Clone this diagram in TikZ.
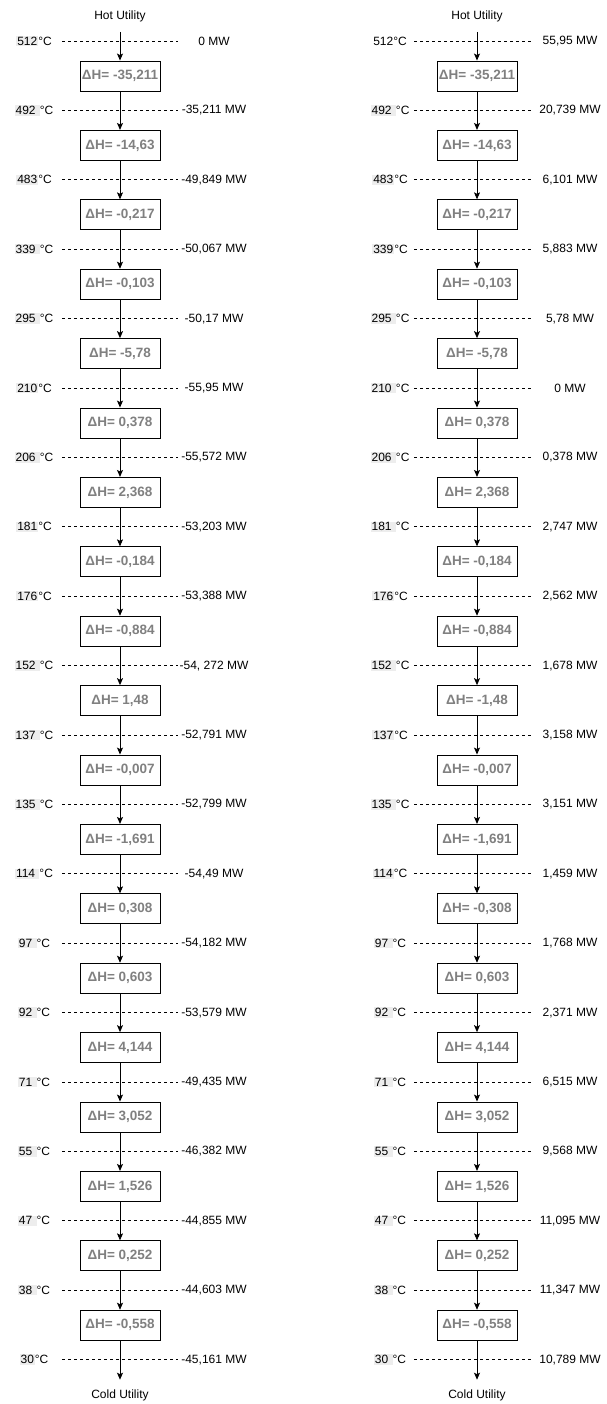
\documentclass[tikz,border=0pt]{standalone}
\usepackage{fontspec}
\setmainfont{Liberation Sans}
\usetikzlibrary{arrows.meta}
\definecolor{hlgray}{HTML}{EDEDED}
\definecolor{dhgray}{HTML}{808080}
\newcommand{\hlt}[1]{{\setlength{\fboxsep}{1pt}\colorbox{hlgray}{\vphantom{0}#1}}}
\begin{document}
\begin{tikzpicture}[x=1pt,y=-1pt,
  lbl/.style={font=\fontsize{12}{14}\selectfont, inner sep=0pt},
  dhbox/.style={draw=black, fill=white, line width=0.9pt, minimum width=80pt, minimum height=30pt, inner sep=0pt, font=\bfseries\fontsize{13.5}{16}\selectfont, text=dhgray},
  sep/.style={dash pattern=on 3pt off 3pt, line width=0.8pt},
  flow/.style={-{Stealth[length=7pt,width=6pt,inset=1.5pt]}, line width=0.9pt}]
\useasboundingbox (0,0) rectangle (607,1404);

% ---------------- left column ----------------
\foreach \t/\m [count=\i] in {
 {\hlt{512}°C}/{0 MW},
 {\hlt{492~}°C}/{-35,211  MW},
 {\hlt{483}°C}/{-49,849 MW},
 {\hlt{339~}°C}/{-50,067 MW},
 {\hlt{295~}°C}/{-50,17 MW},
 {\hlt{210}°C}/{-55,95 MW},
 {\hlt{206~}°C}/{-55,572 MW},
 {\hlt{181}°C}/{-53,203 MW},
 {\hlt{176}°C}/{-53,388 MW},
 {\hlt{152~}°C}/{-54, 272 MW},
 {\hlt{137~}°C}/{-52,791 MW},
 {\hlt{135~}°C}/{-52,799 MW},
 {\hlt{114~}°C}/{-54,49 MW},
 {\hlt{97~}°C}/{-54,182 MW},
 {\hlt{92~}°C}/{-53,579 MW},
 {\hlt{71~}°C}/{-49,435 MW},
 {\hlt{55~}°C}/{-46,382 MW},
 {\hlt{47~}°C}/{-44,855 MW},
 {\hlt{38~}°C}/{-44,603 MW},
 {\hlt{30}°C}/{-45,161 MW}} {
  \pgfmathsetmacro{\yy}{41+(\i-1)*69.4}
  \node[lbl] (tL\i) at (34,\yy) {\t};
  \coordinate (aL\i) at (62,\yy);
  \coordinate (bL\i) at (178,\yy);
  \draw[sep] (aL\i) -- (bL\i);
  \node[lbl] (mL\i) at (214,\yy) {\m};
}
\foreach \d [count=\i] in {{-35,211},{-14,63},{-0,217},{-0,103},{-5,78},{0,378},{2,368},{-0,184},{-0,884},{1,48},{-0,007},{-1,691},{0,308},{0,603},{4,144},{3,052},{1,526},{0,252},{-0,558}} {
  \pgfmathsetmacro{\yy}{76+(\i-1)*69.4}
  \node[dhbox] (hL\i) at (120,\yy) {ΔH= \d};
}
\node[lbl] (hotL) at (120,16) {Hot Utility};
\node[lbl] (coldL) at (120,1395) {Cold Utility};

% ---------------- right column ----------------
\foreach \t/\m [count=\i] in {
 {512°C}/{55,95 MW},
 {\hlt{492~}°C}/{20,739 MW},
 {\hlt{483}°C}/{6,101 MW},
 {\hlt{339}°C}/{5,883 MW},
 {\hlt{295~}°C}/{5,78 MW},
 {\hlt{210~}°C}/{0 MW},
 {\hlt{206~}°C}/{0,378 MW},
 {\hlt{181~}°C}/{2,747 MW},
 {\hlt{176}°C}/{2,562 MW},
 {\hlt{152~}°C}/{1,678 MW},
 {\hlt{137}°C}/{3,158 MW},
 {\hlt{135~}°C}/{3,151 MW},
 {\hlt{114}°C}/{1,459 MW},
 {\hlt{97~}°C}/{1,768 MW},
 {\hlt{92~}°C}/{2,371 MW},
 {\hlt{71~}°C}/{6,515 MW},
 {\hlt{55~}°C}/{9,568 MW},
 {\hlt{47~}°C}/{11,095 MW},
 {\hlt{38~}°C}/{11,347 MW},
 {\hlt{30~}°C}/{10,789 MW}} {
  \pgfmathsetmacro{\yy}{41+(\i-1)*69.4}
  \node[lbl] (tR\i) at (390,\yy) {\t};
  \coordinate (aR\i) at (414,\yy);
  \coordinate (bR\i) at (532,\yy);
  \draw[sep] (aR\i) -- (bR\i);
  \node[lbl] (mR\i) at (570,\yy) {\m};
}
\foreach \d [count=\i] in {{-35,211},{-14,63},{-0,217},{-0,103},{-5,78},{0,378},{2,368},{-0,184},{-0,884},{-1,48},{-0,007},{-1,691},{-0,308},{0,603},{4,144},{3,052},{1,526},{0,252},{-0,558}} {
  \pgfmathsetmacro{\yy}{76+(\i-1)*69.4}
  \node[dhbox] (hR\i) at (477,\yy) {ΔH= \d};
}
\node[lbl] (hotR) at (477,16) {Hot Utility};
\node[lbl] (coldR) at (477,1395) {Cold Utility};

% ---------------- flow arrows ----------------
\draw[flow] ([yshift=-10pt]hotL.south) -- (hL1.north);
\draw[flow] ([yshift=-10pt]hotR.south) -- (hR1.north);
\foreach \i [evaluate=\i as \j using {int(\i+1)}] in {1,...,18} {
  \draw[flow] (hL\i.south) -- (hL\j.north);
  \draw[flow] (hR\i.south) -- (hR\j.north);
}
\draw[flow] (hL19.south) -- ([yshift=9.5pt]coldL.north);
\draw[flow] (hR19.south) -- ([yshift=9.5pt]coldR.north);
\end{tikzpicture}
\end{document}
